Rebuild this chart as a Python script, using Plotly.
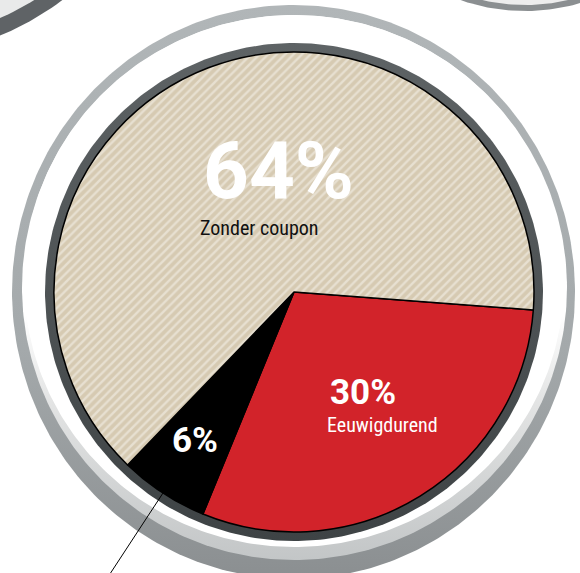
import numpy as np
import plotly.graph_objects as go

# slices, clockwise from the tan/red edge
slice_labels = ["Eeuwigdurend", "Overig", "Zonder coupon"]
slice_values = [30, 6, 64]
slice_colors = ["#d2232a", "#000000", "#d6cab2"]
slice_patterns = ["", "", "/"]

pct_labels = ["30%", "6%", "64%"]
sub_labels = ["Eeuwigdurend", "", "Zonder coupon"]

W, H = 580, 573
CX, CY, R = 294, 292, 240

fig = go.Figure()


def disc(cx, cy, rx, ry, color=None, grad=None):
    # grad runs from the bottom of the disc (0) to its top (1)
    t = np.linspace(0, 2 * np.pi, 361)
    x = cx + rx * np.cos(t)
    y = cy + ry * np.sin(t)
    if grad is None:
        kw = dict(fillcolor=color)
    else:
        kw = dict(fillgradient=dict(type="vertical", colorscale=grad))
    fig.add_trace(go.Scatter(x=x, y=y, mode="lines", line=dict(width=0),
                             fill="toself", hoverinfo="skip", showlegend=False, **kw))


# neighbouring bezels, cut off at the top
disc(-116, -241, 300, 300, "#5f6366")
disc(-116, -241, 284, 284, "#e9eaea")
disc(525, -186, 197, 197, "#8b8f91")
disc(525, -186, 191, 191, "#ededed")

# main bezel
disc(293.5, 292, 281.5, 287, grad=[[0, "#8b8f91"], [0.4, "#a4a9ab"], [1, "#b1b6b8"]])
disc(294.5, 287.5, 272.5, 272.5, grad=[[0, "#c3c6c7"], [0.3, "#e4e5e5"], [0.45, "#ffffff"], [1, "#ffffff"]])
disc(294, 281, 270, 266, "#ffffff")
disc(CX, CY, 249, 249, grad=[[0, "#3e4345"], [1, "#5e6365"]])

fig.add_trace(go.Pie(
    labels=slice_labels,
    values=slice_values,
    sort=False,
    direction="clockwise",
    rotation=94.3,
    textinfo="none",
    hoverinfo="label+percent",
    showlegend=False,
    marker=dict(
        colors=slice_colors,
        line=dict(color="#000000", width=1.5),
        pattern=dict(shape=slice_patterns, fillmode="overlay", fgcolor="#f8f5ef",
                     size=6, solidity=0.4),
    ),
    domain=dict(x=[(CX - R) / W, (CX + R) / W],
                y=[(H - CY - R) / H, (H - CY + R) / H]),
))

bold = dict(family="Roboto, Inter, sans-serif", color="white", weight=700)
narrow = "Liberation Sans Narrow, Roboto Condensed, Roboto, sans-serif"
annos = [
    dict(x=278, y=171, text=pct_labels[2], font=dict(size=80, **bold)),
    dict(x=259, y=228, text=sub_labels[2], font=dict(size=20, family=narrow, color="#111111")),
    dict(x=363, y=392, text=pct_labels[0], font=dict(size=35, **bold)),
    dict(x=382, y=425, text=sub_labels[0], font=dict(size=20, family=narrow, color="white")),
    dict(x=195, y=440, text=pct_labels[1], font=dict(size=35, **bold)),
]
for a in annos:
    fig.add_annotation(xref="x", yref="y", showarrow=False, xanchor="center", yanchor="middle", **a)

# leader line from the small slice
fig.add_shape(type="line", xref="x", yref="y", x0=163, y0=493, x1=106, y1=580,
              line=dict(color="black", width=1), layer="above")

fig.update_xaxes(range=[0, W], visible=False, fixedrange=True)
fig.update_yaxes(range=[H, 0], visible=False, fixedrange=True)
fig.update_layout(
    width=W, height=H,
    margin=dict(l=0, r=0, t=0, b=0),
    paper_bgcolor="white",
    plot_bgcolor="white",
)

# drop the default page margin so the figure sits at the window's corner
fig.write_html("out.html", config={"displayModeBar": False},
               post_script="document.body.style.margin='0px';")
